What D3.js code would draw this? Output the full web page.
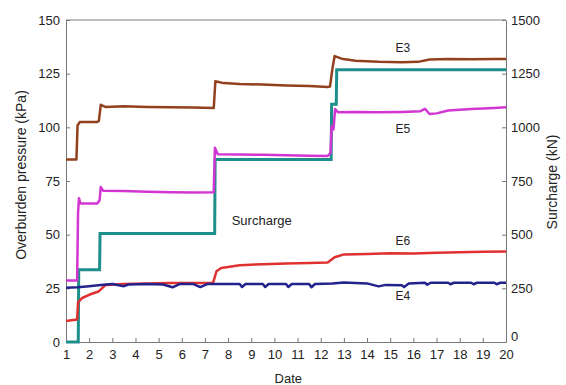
<!DOCTYPE html>
<html>
<head>
<meta charset="utf-8">
<script src="https://cdn.jsdelivr.net/npm/d3@7"></script>
<style>
  body { margin: 0; background: #fff; }
  svg { font-family: "Liberation Sans", Arial, sans-serif; }
  .axis path, .axis line { stroke: #777; }
  .axis text { font-size: 13px; fill: #222; }
</style>
</head>
<body>
<div id="chart-area"></div>
<script>
// SVG size
let width = 566,
	height = 385;

// tick values
let dayTicks = d3.range(1, 21);
let pressureTicks = [0, 25, 50, 75, 100, 125, 150];
let surchargeTicks = [0, 250, 500, 750, 1000, 1250, 1500];

// earth pressure cells, [date, kPa]
let e3 = [[1,85],[1.45,85],[1.5,101],[1.6,102.5],[2.35,102.5],[2.42,103],[2.5,110.5],[2.7,109.5],[3.5,109.8],[4.5,109.5],
	[5.5,109.3],[6.5,109.2],[7.38,109],[7.45,121.5],[7.8,120.6],[8.5,120.2],[9.5,119.9],[10.5,119.5],[11.5,119.2],
	[12.3,118.8],[12.4,119],[12.5,127],[12.6,133.2],[12.9,132],[13.5,131],[14.5,130.5],[15.5,130.3],[16.2,130.5],
	[16.7,131.6],[17.5,131.8],[18.5,131.7],[19.5,131.8],[20,131.8]];

let e5 = [[1,28.6],[1.48,28.6],[1.52,60],[1.56,67],[1.62,64.5],[2.35,64.5],[2.45,66],[2.5,72.2],[2.6,70.5],[3.5,70.3],
	[4.5,70],[5.5,69.8],[6.5,69.7],[7.38,69.8],[7.43,90.5],[7.55,87.5],[8.5,87.3],[9.5,87.2],[10.5,87],[11.5,86.8],
	[12.3,86.7],[12.42,88],[12.47,100.5],[12.55,99],[12.62,108.5],[12.75,107],[13.5,107.2],[14.5,107],[15.5,107.2],
	[16.3,107.5],[16.5,108.6],[16.7,106.2],[17,106.5],[17.5,107.8],[18.5,108.5],[19.5,109],[20,109.3]];

let e6 = [[1,9.8],[1.48,10.5],[1.52,18.5],[1.7,20.5],[2,22],[2.4,23.5],[2.7,26.5],[3.5,27],[4.5,27.3],[5.5,27.5],
	[6.5,27.5],[7.35,27.5],[7.5,33],[7.7,34.5],[8.5,35.8],[9.5,36.2],[10.5,36.6],[11.5,36.8],[12.3,37],[12.6,39.5],
	[13,40.8],[14,41],[15,41.3],[16,41.2],[17,41.6],[18,41.8],[19,42],[20,42.2]];

let e4 = [[1,25.3],[1.5,25.5],[2,26],[2.5,26.5],[3,27],[3.5,26],[3.7,26.8],[4.5,27],[5.2,26.8],[5.6,25.5],[5.9,27],
	[6.5,27],[6.8,25.6],[7.1,27],[7.5,27],[8.5,27],[8.6,25.6],[8.75,27],[9.5,27],[9.6,25.6],[9.75,27],[10.5,27],
	[10.6,25.6],[10.75,27],[11.5,27],[11.6,25.5],[11.75,27],[12.5,27.2],[13,27.7],[14,27.3],[14.5,25.9],[14.8,26.6],
	[15.5,26.4],[15.6,25.6],[15.8,27.2],[16.5,27.6],[16.6,26.7],[16.75,27.6],[17.5,27.6],[17.6,26.9],[17.75,27.6],
	[18.5,27.6],[18.6,26.9],[18.75,27.6],[19.5,27.6],[19.6,26.9],[19.75,27.6],[20,27.6]];

// surcharge load, [date, kN]
let surcharge = [[1,0],[1.53,0],[1.55,336],[2.45,336],[2.47,505],[7.42,505],[7.44,850],[12.45,850],[12.47,1107],
	[12.67,1107],[12.69,1268],[20,1268]];

let margin = {top: 20, right: 60, bottom: 43, left: 66};

drawChart();

function drawChart() {
	let svg = d3.select("#chart-area").append("svg").attr("width", width).attr("height", height);

	let x = d3.scaleLinear().domain([1, 20]).range([margin.left, width - margin.right]);
	let yLeft = d3.scaleLinear().domain([0, 150]).range([height - margin.bottom, margin.top]);
	let yRight = d3.scaleLinear().domain([0, 1500]).range([height - margin.bottom, margin.top]);

	// top frame line
	svg.append("line")
		.attr("x1", x(1)).attr("x2", x(20))
		.attr("y1", yLeft(150)).attr("y2", yLeft(150))
		.attr("stroke", "#aaa").attr("stroke-width", 1.5);

	let xAxis = d3.axisBottom(x).tickValues(dayTicks).tickSize(-4).tickPadding(8).tickSizeOuter(0);
	let leftAxis = d3.axisLeft(yLeft).tickValues(pressureTicks).tickSize(-4).tickPadding(6).tickSizeOuter(0);
	let rightAxis = d3.axisRight(yRight).tickValues(surchargeTicks).tickFormat(d3.format("d"))
		.tickSize(-4).tickPadding(5).tickSizeOuter(0);

	svg.append("g").attr("class", "axis")
		.attr("transform", "translate(0," + yLeft(0) + ")")
		.call(xAxis);
	svg.append("g").attr("class", "axis")
		.attr("transform", "translate(" + x(1) + ",0)")
		.call(leftAxis);
	svg.append("g").attr("class", "axis right-axis")
		.attr("transform", "translate(" + x(20) + ",0)")
		.call(rightAxis);

	// the right "0" sits a little above the corner, as in the original
	svg.selectAll(".right-axis .tick text").filter(d => d === 0).attr("dy", "-0.1em");

	let lineLeft = d3.line().x(d => x(d[0])).y(d => yLeft(d[1]));
	let lineRight = d3.line().x(d => x(d[0])).y(d => yRight(d[1]));

	let series = [
		{data: e3, color: "#93401f"},
		{data: e5, color: "#d236d2"},
		{data: e6, color: "#e03131"},
		{data: e4, color: "#23238c"}
	];

	svg.append("path")
		.datum(surcharge)
		.attr("d", lineRight)
		.attr("fill", "none")
		.attr("stroke", "#1f8f8c")
		.attr("stroke-width", 3);

	series.forEach(s => {
		svg.append("path")
			.datum(s.data)
			.attr("d", lineLeft)
			.attr("fill", "none")
			.attr("stroke", s.color)
			.attr("stroke-width", 2.5)
			.attr("stroke-linejoin", "round");
	});

	// series labels
	let labels = [
		{t: "E3", x: 15.55, y: 136.5},
		{t: "E5", x: 15.55, y: 99},
		{t: "E6", x: 15.55, y: 46.5},
		{t: "E4", x: 15.55, y: 21},
		{t: "Surcharge", x: 9.45, y: 56}
	];
	svg.selectAll(".lab")
		.data(labels)
		.enter()
		.append("text")
		.attr("class", "lab")
		.attr("x", d => x(d.x))
		.attr("y", d => yLeft(d.y))
		.attr("text-anchor", "middle")
		.attr("dominant-baseline", "middle")
		.attr("font-size", d => d.t === "Surcharge" ? 13 : 12)
		.attr("fill", "#222")
		.text(d => d.t);

	// axis titles
	svg.append("text")
		.attr("transform", "translate(22," + 175 + ") rotate(-90)")
		.attr("text-anchor", "middle")
		.attr("dominant-baseline", "middle")
		.attr("font-size", 14)
		.attr("fill", "#222")
		.text("Overburden pressure (kPa)");

	svg.append("text")
		.attr("transform", "translate(553," + 182 + ") rotate(-90)")
		.attr("text-anchor", "middle")
		.attr("dominant-baseline", "middle")
		.attr("font-size", 14)
		.attr("fill", "#222")
		.text("Surcharge (kN)");

	svg.append("text")
		.attr("x", x(10.6))
		.attr("y", 383)
		.attr("text-anchor", "middle")
		.attr("font-size", 13)
		.attr("fill", "#222")
		.text("Date");
}
</script>
</body>
</html>
